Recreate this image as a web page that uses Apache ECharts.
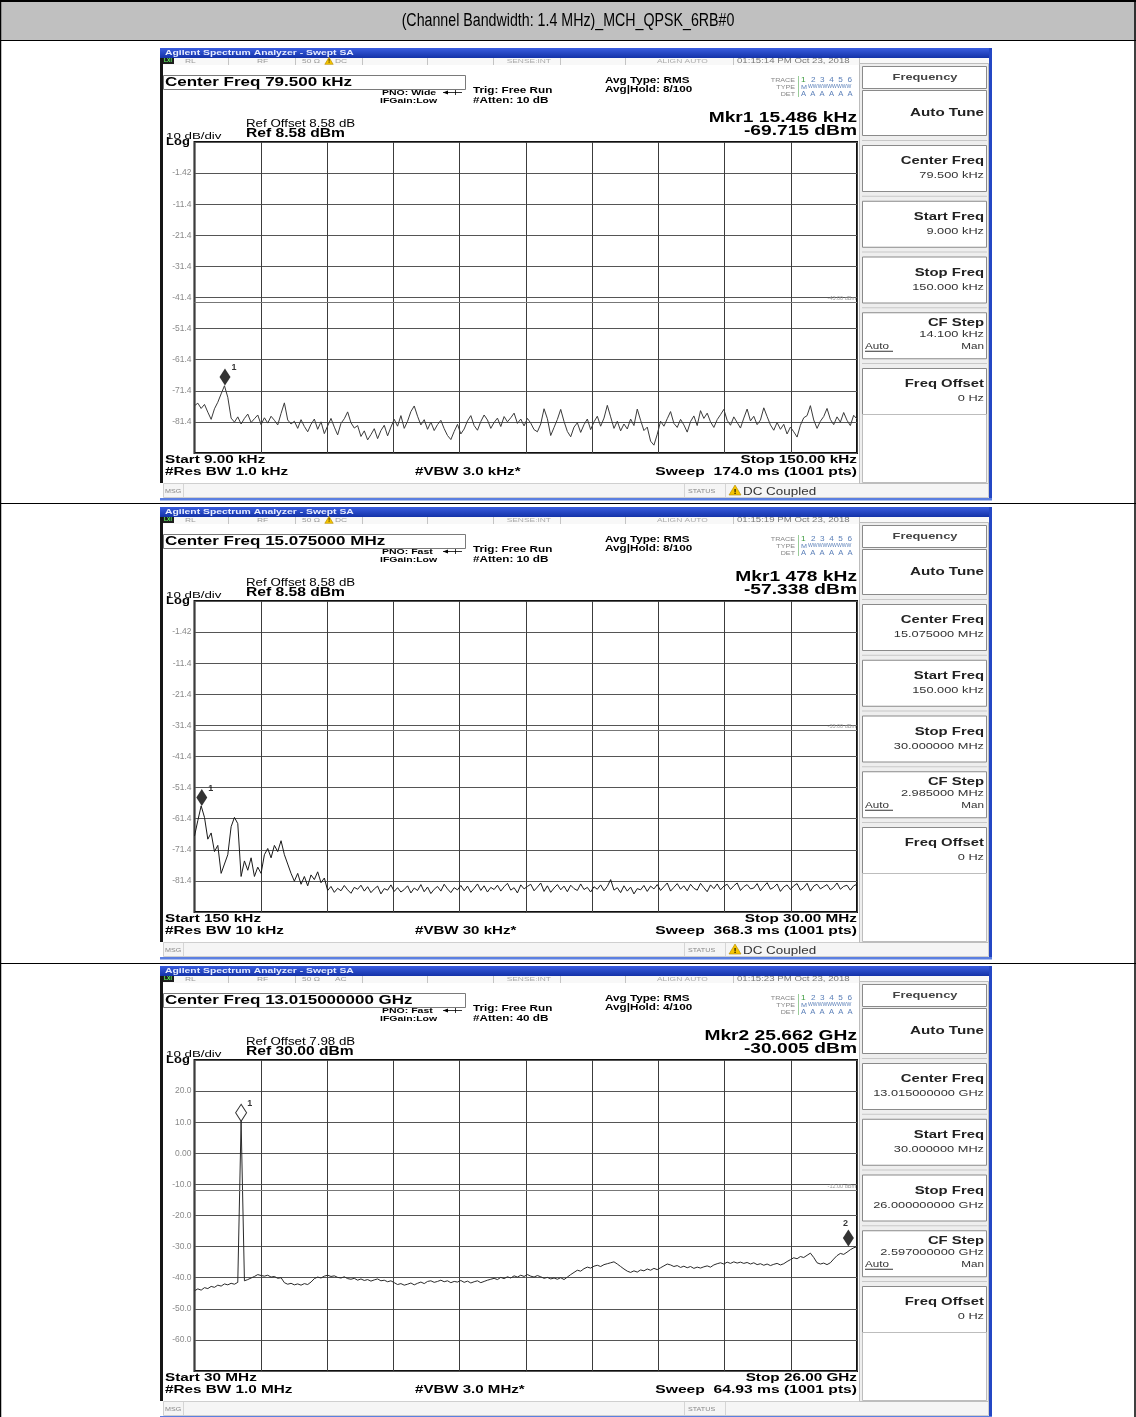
<!DOCTYPE html>
<html><head><meta charset="utf-8">
<script src="https://cdn.jsdelivr.net/npm/echarts@6/dist/echarts.min.js"></script>
<style>html,body{margin:0;padding:0;background:#fff}#c{width:1136px;height:1417px}</style>
</head><body><div id="c"></div><script>
const pageTitle = '(Channel Bandwidth: 1.4 MHz)_MCH_QPSK_6RB#0';

// ---- Panel 1 : 9 kHz - 150 kHz ----
const p1Start = 9, p1Stop = 150, p1Ref = 8.58, p1Display = -43;
const p1YTicks = ['-1.42','-11.4','-21.4','-31.4','-41.4','-51.4','-61.4','-71.4','-81.4'];
const p1Trace = [
-76.2,-75.4,-77.1,-75.8,-78.3,-80.6,-77.2,-75.1,-72.4,-69.8,
-73.5,-80.2,-81.5,-79.8,-82.1,-80.3,-78.9,-81.6,-80.4,-79.2,
-82.3,-80.1,-81.8,-79.6,-80.9,-82.4,-78.7,-75.3,-80.8,-82.1,
-81.2,-83.5,-80.7,-82.9,-84.6,-82.2,-80.5,-83.8,-81.4,-85.2,
-82.7,-80.3,-83.1,-85.6,-81.9,-80.4,-78.2,-81.7,-83.4,-82.6,
-86.1,-84.3,-87.2,-85.5,-83.6,-86.8,-84.2,-82.5,-85.9,-83.1,
-80.6,-82.8,-79.4,-83.5,-81.2,-78.1,-76.3,-79.6,-82.4,-80.7,
-83.8,-81.5,-84.2,-82.3,-80.9,-83.6,-85.8,-87.1,-84.5,-82.2,
-85.3,-83.7,-81.1,-79.4,-82.6,-84.1,-81.3,-79.2,-80.8,-83.5,
-81.6,-80.2,-82.9,-79.7,-81.4,-80.1,-78.6,-81.9,-80.5,-82.7,
-80.3,-81.8,-83.9,-84.6,-82.1,-77.2,-80.4,-85.8,-83.2,-80.6,
-77.4,-81.3,-84.5,-86.2,-83.1,-81.7,-84.8,-82.3,-80.5,-83.9,
-81.4,-79.6,-82.8,-80.2,-76.1,-79.8,-83.5,-81.2,-84.3,-82.1,
-83.7,-80.5,-82.6,-77.3,-80.9,-84.2,-83.1,-87.6,-88.9,-85.4,
-81.2,-82.8,-80.4,-78.1,-81.9,-83.2,-80.6,-82.4,-84.7,-81.3,
-79.5,-82.6,-77.8,-80.3,-78.6,-81.4,-83.2,-80.7,-79.1,-77.4,
-80.9,-82.5,-79.8,-81.6,-83.4,-80.2,-77.3,-81.1,-79.6,-82.3,
-80.8,-76.9,-79.7,-82.4,-84.1,-81.6,-83.8,-82.2,-85.3,-83.1,
-84.6,-86.3,-82.5,-80.1,-79.4,-76.2,-80.8,-83.5,-81.2,-79.7,
-77.1,-80.6,-82.3,-79.8,-81.5,-78.4,-80.9,-82.6,-79.3,-80.5];
const p1Markers = [{name:'1', freq:15.486, level:-69.715, hollow:false, labelPos:'right'}];

// ---- Panel 2 : 150 kHz - 30 MHz ----
const p2Start = 0.15, p2Stop = 30, p2Ref = 8.58, p2Display = -33;
const p2YTicks = ['-1.42','-11.4','-21.4','-31.4','-41.4','-51.4','-61.4','-71.4','-81.4'];
const p2Trace = [
-67,-62,-57.3,-61,-68,-66,-72,-70,-79,-76,
-73,-64,-61,-63,-80,-75,-78,-74,-80,-77,
-79,-73,-71,-74,-70,-72,-68.5,-73,-76,-79,
-81.5,-79,-82.5,-80,-83,-79.5,-81,-78.5,-82,-80.5,
-84.5,
-83.2,-85.1,-83.8,-84.6,-82.9,-84.3,-85.4,-83.5,-84.1,-82.8,
-84.7,-83.3,-85.2,-84.0,-83.1,-85.6,-83.9,-84.4,-82.7,-84.8,
-83.6,-85.0,-84.2,-83.0,-85.3,-83.7,-84.5,-82.6,-84.9,-83.4,
-85.5,-84.1,-83.2,-84.7,-82.5,-84.0,-85.2,-83.6,-84.3,-82.9,
-84.6,-83.1,-85.1,-83.8,-82.4,-84.5,-83.0,-85.0,-83.5,-84.2,
-82.8,-84.7,-83.3,-82.2,-84.4,-83.6,-85.3,-82.7,-84.0,-83.2,
-82.5,-84.6,-83.4,-82.1,-84.8,-83.0,-85.1,-83.7,-82.6,-84.3,
-83.1,-84.9,-82.8,-83.9,-84.5,-82.4,-84.2,-83.5,-85.0,-83.3,
-84.1,-82.7,-84.6,-83.2,-81.0,-84.4,-83.6,-85.2,-83.0,-84.7,
-83.4,-85.6,-83.9,-84.3,-82.9,-84.8,-83.1,-84.0,-82.6,-84.5,
-83.3,-82.1,-84.7,-83.5,-82.3,-84.1,-83.0,-84.6,-82.5,-83.8,
-84.4,-82.2,-83.6,-84.9,-82.7,-83.9,-82.4,-84.3,-83.1,-82.5,
-84.2,-83.0,-82.1,-84.5,-83.3,-82.6,-84.0,-83.7,-82.3,-84.6,
-83.2,-82.0,-84.1,-83.5,-82.4,-84.8,-83.4,-82.7,-84.2,-83.0,
-82.3,-84.4,-83.6,-82.2,-84.7,-83.1,-82.5,-84.0,-83.3,-82.6,
-84.3,-83.5,-82.1,-84.1,-83.2,-82.8,-84.4,-83.0,-82.5];
const p2Markers = [{name:'1', freq:0.478, level:-57.338, hollow:false, labelPos:'right'}];

// ---- Panel 3 : 30 MHz - 26 GHz ----
const p3Start = 0.03, p3Stop = 26, p3Ref = 30, p3Display = -12;
const p3YTicks = ['20.0','10.0','0.00','-10.0','-20.0','-30.0','-40.0','-50.0','-60.0'];
const p3Trace = [
-44.2,-43.6,-44.0,-43.2,-43.5,-42.8,-43.1,-42.4,-42.7,-42.0,-42.3,-41.8,-42.1,-41.5,
10.3,
-41.0,-40.6,-40.1,-39.6,-39.0,-39.3,
-39.5,-39.2,-39.8,-39.6,-40.2,-40.0,
-41.6,-42.1,-41.8,-42.3,-42.0,-42.4,-41.9,-42.2,-41.4,
-40.3,-39.8,-40.1,-39.5,-39.2,-39.6,-39.4,-39.9,-40.1,-39.7,-40.3,
-40.5,-40.2,-40.8,-40.4,-40.9,-40.6,-41.1,-40.7,-40.4,-41.0,-40.8,-41.3,-41.0,
-41.6,-42.2,-41.9,-42.4,-42.1,-41.7,-42.3,-41.8,-41.4,-41.9,-41.2,
-41.0,-41.5,-41.2,-40.8,-41.3,-41.0,-41.6,-41.2,-41.4,-40.9,-41.5,-41.1,-41.7,-41.3,-41.0,-41.6,-41.2,-40.8,-40.5,
-40.2,-40.6,-39.9,-40.3,-39.7,-40.1,-39.4,-39.8,-39.2,-39.6,-39.0,-39.5,-39.8,-39.3,-39.7,-40.2,-39.9,-40.4,-40.1,
-40.5,-40.0,-40.6,-39.8,
-39.0,-38.3,-37.6,-37.9,-37.1,-36.6,-36.9,
-36.3,-36.0,-36.4,-35.8,-35.5,-35.2,-34.9,
-35.6,-36.4,-37.2,-37.9,-38.3,
-37.8,-38.2,-37.5,-37.8,-37.2,
-37.6,-37.0,-37.4,-36.8,-36.2,-35.6,-35.9,
-36.4,-36.1,-36.7,-36.3,-36.8,-36.4,-37.0,-36.6,-36.9,-36.5,-36.2,-36.6,-35.9,
-35.5,-35.2,-35.6,-35.0,-35.4,-34.9,-35.3,
-35.0,-35.4,-35.1,-35.6,-35.2,-35.8,-35.5,-36.0,-35.6,-36.1,-35.7,-35.4,-35.9,-35.5,
-34.8,-34.2,-33.6,-33.9,-33.2,-33.5,-32.8,-32.1,
-33.5,-35.2,-35.6,-35.3,-35.8,
-35.2,-34.0,-32.9,-32.2,-32.5,-31.8,
-31.0,-30.4,-30.0];
const p3Markers = [
  {name:'1', freq:1.857, level:10.3, hollow:true, labelPos:'right'},
  {name:'2', freq:25.662, level:-30.005, hollow:false, labelPos:'top'}];

// ---- Panel texts ----
const p1Info = {time:'01:15:14 PM Oct 23, 2018', coupling:'DC', warn:true, center:'Center Freq 79.500 kHz', pno:'PNO: Wide',
  atten:'#Atten: 10 dB', avgHold:'Avg|Hold: 8/100', mkr:'Mkr1 15.486 kHz', mkrVal:'-69.715 dBm',
  refOffset:'Ref Offset 8.58 dB', ref:'Ref 8.58 dBm', start:'Start 9.00 kHz', rbw:'#Res BW 1.0 kHz', vbw:'#VBW 3.0 kHz*',
  stop:'Stop 150.00 kHz', sweep:'Sweep  174.0 ms (1001 pts)', status:'DC Coupled', dl:'-43.00 dBm',
  skCenter:'79.500 kHz', skStart:'9.000 kHz', skStop:'150.000 kHz', skStep:'14.100 kHz'};
const p2Info = {time:'01:15:19 PM Oct 23, 2018', coupling:'DC', warn:true, center:'Center Freq 15.075000 MHz', pno:'PNO: Fast',
  atten:'#Atten: 10 dB', avgHold:'Avg|Hold: 8/100', mkr:'Mkr1 478 kHz', mkrVal:'-57.338 dBm',
  refOffset:'Ref Offset 8.58 dB', ref:'Ref 8.58 dBm', start:'Start 150 kHz', rbw:'#Res BW 10 kHz', vbw:'#VBW 30 kHz*',
  stop:'Stop 30.00 MHz', sweep:'Sweep  368.3 ms (1001 pts)', status:'DC Coupled', dl:'-33.00 dBm',
  skCenter:'15.075000 MHz', skStart:'150.000 kHz', skStop:'30.000000 MHz', skStep:'2.985000 MHz'};
const p3Info = {time:'01:15:23 PM Oct 23, 2018', coupling:'AC', warn:false, center:'Center Freq 13.015000000 GHz', pno:'PNO: Fast',
  atten:'#Atten: 40 dB', avgHold:'Avg|Hold: 4/100', mkr:'Mkr2 25.662 GHz', mkrVal:'-30.005 dBm',
  refOffset:'Ref Offset 7.98 dB', ref:'Ref 30.00 dBm', start:'Start 30 MHz', rbw:'#Res BW 1.0 MHz', vbw:'#VBW 3.0 MHz*',
  stop:'Stop 26.00 GHz', sweep:'Sweep  64.93 ms (1001 pts)', status:'', dl:'-12.00 dBm',
  skCenter:'13.015000000 GHz', skStart:'30.000000 MHz', skStop:'26.000000000 GHz', skStep:'2.597000000 GHz'};

const panels = [
  {dy:0,   start:p1Start, stop:p1Stop, ref:p1Ref, display:p1Display, ticks:p1YTicks, trace:p1Trace, markers:p1Markers, info:p1Info, color:'#3a3a3a'},
  {dy:459, start:p2Start, stop:p2Stop, ref:p2Ref, display:p2Display, ticks:p2YTicks, trace:p2Trace, markers:p2Markers, info:p2Info, color:'#1a1a1a'},
  {dy:918, start:p3Start, stop:p3Stop, ref:p3Ref, display:p3Display, ticks:p3YTicks, trace:p3Trace, markers:p3Markers, info:p3Info, color:'#2a2a2a'}
];

// ---- helpers ----
const F = '"Liberation Sans", Arial, Helvetica, sans-serif';
function txt(x, y, s, size, o) {
  o = o || {};
  return {type:'text', x:x, y:y, z:100, silent:true, scaleX:(o.sx || 1),
    style:{text:s, font:(o.bold ? 'bold ' : '') + size + 'px ' + (o.family || F), fill:o.color || '#000',
      textAlign:o.align || 'left', textVerticalAlign:'middle', align:o.align || 'left', verticalAlign:'middle'}};
}
function rect(x, y, w, h, fill, stroke, lw) {
  return {type:'rect', z:50, silent:true, shape:{x:x, y:y, width:w, height:h},
    style:{fill:fill || 'none', stroke:stroke || 'none', lineWidth:lw || 1}};
}
function line(x1, y1, x2, y2, stroke, lw) {
  return {type:'line', z:60, silent:true, shape:{x1:x1, y1:y1, x2:x2, y2:y2}, style:{stroke:stroke, lineWidth:lw || 1}};
}
function warnIcon(cx, cy, s) {
  return [
    {type:'polygon', z:90, silent:true, shape:{points:[[cx, cy - s * 0.55], [cx + s * 0.6, cy + s * 0.45], [cx - s * 0.6, cy + s * 0.45]]},
      style:{fill:'#f5c400', stroke:'#b08a00', lineWidth:0.6}},
    txt(cx, cy + s * 0.08, '!', Math.round(s * 0.75), {bold:true, align:'center'})
  ];
}

function panelGraphics(p) {
  const d = p.dy, I = p.info, g = [];
  const blue = '#2447c4';
  // title bar
  g.push({type:'rect', z:50, silent:true, shape:{x:160, y:48 + d, width:832, height:10},
    style:{fill:new echarts.graphic.LinearGradient(0, 0, 0, 1, [{offset:0, color:'#3a5ee0'}, {offset:1, color:'#1332a8'}])}});
  g.push(txt(165, 53 + d, 'Agilent Spectrum Analyzer - Swept SA', 7, {bold:true, color:'#e6ecff', sx:1.48}));
  // status bar
  g.push(rect(163, 58 + d, 826, 7, '#f8f8f8'));
  [228, 295, 362, 427, 493, 560, 625, 733, 859].forEach(function (x) { g.push(line(x + 0.5, 58 + d, x + 0.5, 65 + d, '#c4c4c4', 1)); });
  g.push(rect(163, 58 + d, 11, 6, '#1d1d1d'));
  g.push(txt(164, 61 + d, 'LXI', 5, {bold:true, color:'#6f6'}));
  g.push(txt(185, 61.5 + d, 'RL', 6, {color:'#999', sx:1.4}));
  g.push(txt(257, 61.5 + d, 'RF', 6, {color:'#999', sx:1.4}));
  g.push(txt(302, 61.5 + d, '50 \u03A9', 6, {color:'#999', sx:1.4}));
  if (I.warn) { warnIcon(329, 61.2 + d, 7).forEach(function (e) { g.push(e); }); }
  g.push(txt(335, 61.5 + d, I.coupling, 6, {color:'#999', sx:1.4}));
  g.push(txt(551, 61.5 + d, 'SENSE:INT', 6, {color:'#aaa', align:'right', sx:1.4}));
  g.push(txt(657, 61.5 + d, 'ALIGN AUTO', 6, {color:'#aaa', sx:1.4}));
  g.push(txt(737, 61.5 + d, I.time, 6.8, {color:'#777', sx:1.42}));
  // left dark edge and blue window borders
  g.push(rect(160, 58 + d, 3, 425, '#161616'));
  g.push(rect(989, 48 + d, 3, 452, blue));
  g.push(rect(160, 498 + d, 832, 2.5, '#5b7fe0'));
  // center freq box
  g.push(rect(163.5, 75.5 + d, 302, 14, 'none', '#7a7a7a', 1));
  g.push(txt(165, 82.5 + d, I.center, 12.5, {bold:true, sx:1.36}));
  g.push(txt(382, 92.5 + d, I.pno, 7.5, {bold:true, sx:1.4}));
  g.push(line(443, 92.5 + d, 462, 92.5 + d, '#000', 0.8));
  g.push({type:'polygon', z:90, silent:true, shape:{points:[[443, 92.5 + d], [448, 90.5 + d], [448, 94.5 + d]]}, style:{fill:'#000'}});
  g.push(line(455.5, 90 + d, 455.5, 95 + d, '#000', 0.8));
  g.push(txt(380, 101 + d, 'IFGain:Low', 7.5, {bold:true, sx:1.4}));
  g.push(txt(473, 90.5 + d, 'Trig: Free Run', 8.8, {bold:true, sx:1.33}));
  g.push(txt(473, 100.5 + d, I.atten, 8.8, {bold:true, sx:1.33}));
  g.push(txt(605, 81 + d, 'Avg Type: RMS', 8.8, {bold:true, sx:1.33}));
  g.push(txt(605, 90 + d, I.avgHold, 8.8, {bold:true, sx:1.33}));
  // trace table
  g.push(txt(795, 80 + d, 'TRACE', 5.5, {color:'#888', align:'right', sx:1.3}));
  g.push(txt(795, 87 + d, 'TYPE', 5.5, {color:'#888', align:'right', sx:1.3}));
  g.push(txt(795, 94 + d, 'DET', 5.5, {color:'#888', align:'right', sx:1.3}));
  g.push(line(798.5, 76 + d, 798.5, 97 + d, '#9c9', 1));
  g.push(txt(801, 80 + d, '1', 7, {color:'#3a9a3a', sx:1.2}));
  g.push(txt(811, 80 + d, '2  3  4  5  6', 7, {color:'#5a7fb8', sx:1.17}));
  g.push(txt(801, 87 + d, 'M', 6, {color:'#5a7fb8', sx:1.2}));
  g.push(txt(808, 87 + d, 'WWWWWWWWW', 5, {color:'#5a7fb8', sx:1.02}));
  g.push(txt(801, 94 + d, 'A  A  A  A  A  A', 6.5, {color:'#5a7fb8', sx:1.17}));
  // marker readout
  g.push(txt(857, 118 + d, I.mkr, 15, {bold:true, align:'right', sx:1.28}));
  g.push(txt(857, 131 + d, I.mkrVal, 15, {bold:true, align:'right', sx:1.28}));
  // ref info
  g.push(txt(246, 124 + d, I.refOffset, 10, {sx:1.33}));
  g.push(txt(246, 134 + d, I.ref, 12.5, {bold:true, sx:1.25}));
  g.push(txt(166, 136 + d, '10 dB/div', 9.5, {sx:1.4}));
  g.push(txt(166, 142.5 + d, 'Log', 10, {bold:true, sx:1.3}));
  // bottom annotations
  g.push(txt(165, 460 + d, I.start, 11.5, {bold:true, sx:1.33}));
  g.push(txt(165, 472 + d, I.rbw, 11.5, {bold:true, sx:1.33}));
  g.push(txt(415, 472 + d, I.vbw, 11.5, {bold:true, sx:1.31}));
  g.push(txt(857, 460 + d, I.stop, 11.5, {bold:true, align:'right', sx:1.33}));
  g.push(txt(857, 472 + d, I.sweep, 11.5, {bold:true, align:'right', sx:1.36}));
  // message bar
  g.push(rect(163.5, 483.5 + d, 825, 14, '#f5f5f5', '#cfcfcf', 1));
  g.push(line(183.5, 484 + d, 183.5, 497 + d, '#d5d5d5', 1));
  g.push(txt(165, 491 + d, 'MSG', 5.5, {color:'#888', sx:1.3}));
  g.push(line(684.5, 484 + d, 684.5, 497 + d, '#d5d5d5', 1));
  g.push(txt(688, 491 + d, 'STATUS', 5.5, {color:'#888', sx:1.3}));
  g.push(line(725.5, 484 + d, 725.5, 497 + d, '#d5d5d5', 1));
  if (I.status) {
    warnIcon(735, 490.5 + d, 10).forEach(function (e) { g.push(e); });
    g.push(txt(743, 491.5 + d, I.status, 11, {color:'#333', sx:1.22}));
  }
  // softkey panel
  g.push(rect(859.5, 63.5 + d, 129, 420, '#eeeeee', '#bdbdbd', 1));
  g.push(rect(862.5, 66.5 + d, 124, 22, '#ffffff', '#8a8a8a', 1));
  g.push(txt(925, 77 + d, 'Frequency', 9.5, {bold:true, color:'#444', align:'center', sx:1.35}));
  g.push(rect(862.5, 90.5 + d, 124, 45, '#ffffff', '#8a8a8a', 1));
  g.push(txt(984, 113 + d, 'Auto Tune', 11, {bold:true, color:'#222', align:'right', sx:1.38}));
  const keys = [['Center Freq', I.skCenter], ['Start Freq', I.skStart], ['Stop Freq', I.skStop], ['CF Step', I.skStep], ['Freq Offset', '0 Hz']];
  keys.forEach(function (k, i) {
    const ky = 145 + i * 55.75 + d;
    g.push(line(862, ky - 4.5, 987, ky - 4.5, '#c8c8c8', 1));
    g.push(rect(862.5, ky + 0.5, 124, 46, '#ffffff', '#8a8a8a', 1));
    if (k[0] === 'CF Step') {
      g.push(txt(984, ky + 11, k[0], 11, {bold:true, color:'#222', align:'right', sx:1.35}));
      g.push(txt(984, ky + 22, k[1], 9, {color:'#333', align:'right', sx:1.42}));
      g.push(txt(865, ky + 34, 'Auto', 9, {color:'#333', sx:1.3}));
      g.push(line(865, ky + 39, 893, ky + 39, '#333', 1));
      g.push(txt(984, ky + 34, 'Man', 9, {color:'#333', align:'right', sx:1.3}));
    } else {
      g.push(txt(984, ky + 16, k[0], 11, {bold:true, color:'#222', align:'right', sx:1.35}));
      g.push(txt(984, ky + 31, k[1], 9, {color:'#333', align:'right', sx:1.42}));
    }
  });
  g.push(rect(862.5, 414.5 + d, 124, 68, '#ffffff', '#bdbdbd', 1));
  return g;
}

// ---- table frame ----
const graphics = [];
graphics.push(rect(0, 0, 1136, 40, '#c0c0c0'));
graphics.push(line(0, 1, 1136, 1, '#000', 2));
graphics.push(line(0, 40.5, 1136, 40.5, '#000', 1));
graphics.push(line(0, 503.5, 1136, 503.5, '#000', 1));
graphics.push(line(0, 963.5, 1136, 963.5, '#000', 1));
graphics.push(line(0.5, 0, 0.5, 1417, '#000', 1.5));
graphics.push(line(1135, 0, 1135, 1417, '#000', 1.5));
graphics.push(txt(568, 21, pageTitle, 18, {align:'center', sx:0.79}));
panels.forEach(function (p) { panelGraphics(p).forEach(function (e) { graphics.push(e); }); });

// ---- grids / axes / series ----
const grids = [], xAxes = [], yAxes = [], series = [];
panels.forEach(function (p, k) {
  grids.push({left:194.5, top:142 + p.dy, width:662.5, height:311, show:true, borderColor:'#111', borderWidth:2, backgroundColor:'transparent'});
  xAxes.push({gridIndex:k, type:'value', min:p.start, max:p.stop, show:false});
  xAxes.push({gridIndex:k, type:'value', min:0, max:10, interval:1, position:'top',
    axisLine:{show:false}, axisTick:{show:false}, axisLabel:{show:false},
    splitLine:{show:true, lineStyle:{color:'#3c3c3c', width:1}}});
  yAxes.push({gridIndex:k, type:'value', min:p.ref - 100, max:p.ref, show:false, position:'right'});
  yAxes.push({gridIndex:k, type:'value', min:0, max:10, interval:1, position:'left',
    axisLine:{show:false}, axisTick:{show:false},
    axisLabel:{show:true, margin:3, fontSize:8.5, color:'#8a8a8a', fontFamily:F,
      formatter:function (v) { return (v >= 1 && v <= 9) ? p.ticks[9 - v] : ''; }},
    splitLine:{show:true, lineStyle:{color:'#555', width:1}}});
  const n = p.trace.length;
  const data = p.trace.map(function (v, i) { return [p.start + i * (p.stop - p.start) / (n - 1), v]; });
  series.push({type:'line', xAxisIndex:2 * k, yAxisIndex:2 * k, data:data, showSymbol:false, symbol:'none',
    lineStyle:{color:p.color, width:1}, animation:false, silent:true, z:3,
    markLine:{silent:true, symbol:['none', 'none'], animation:false,
      lineStyle:{color:'#777', width:1, type:'solid'},
      label:{show:true, position:'insideEndTop', formatter:p.info.dl, fontSize:5.5, color:'#999', distance:1},
      data:[{yAxis:p.display}]}});
  series.push({type:'scatter', xAxisIndex:2 * k, yAxisIndex:2 * k, animation:false, silent:true, z:5,
    symbol:'diamond', symbolSize:[11, 17], symbolOffset:[0, '-50%'],
    data:p.markers.map(function (m) {
      return {value:[m.freq, m.level], name:m.name,
        itemStyle:m.hollow ? {color:'#fff', borderColor:'#000', borderWidth:1} : {color:'#000'},
        label:{show:true, formatter:m.name, fontSize:9, fontWeight:'bold', color:'#000', fontFamily:F,
          position:m.labelPos === 'top' ? [0, -11] : [12, -5]}};
    })});
});

const chart = echarts.init(document.getElementById('c'), null, {renderer:'canvas'});
chart.setOption({animation:false, backgroundColor:'#fff', grid:grids, xAxis:xAxes, yAxis:yAxes, series:series, graphic:{elements:graphics}});
</script></body></html>
